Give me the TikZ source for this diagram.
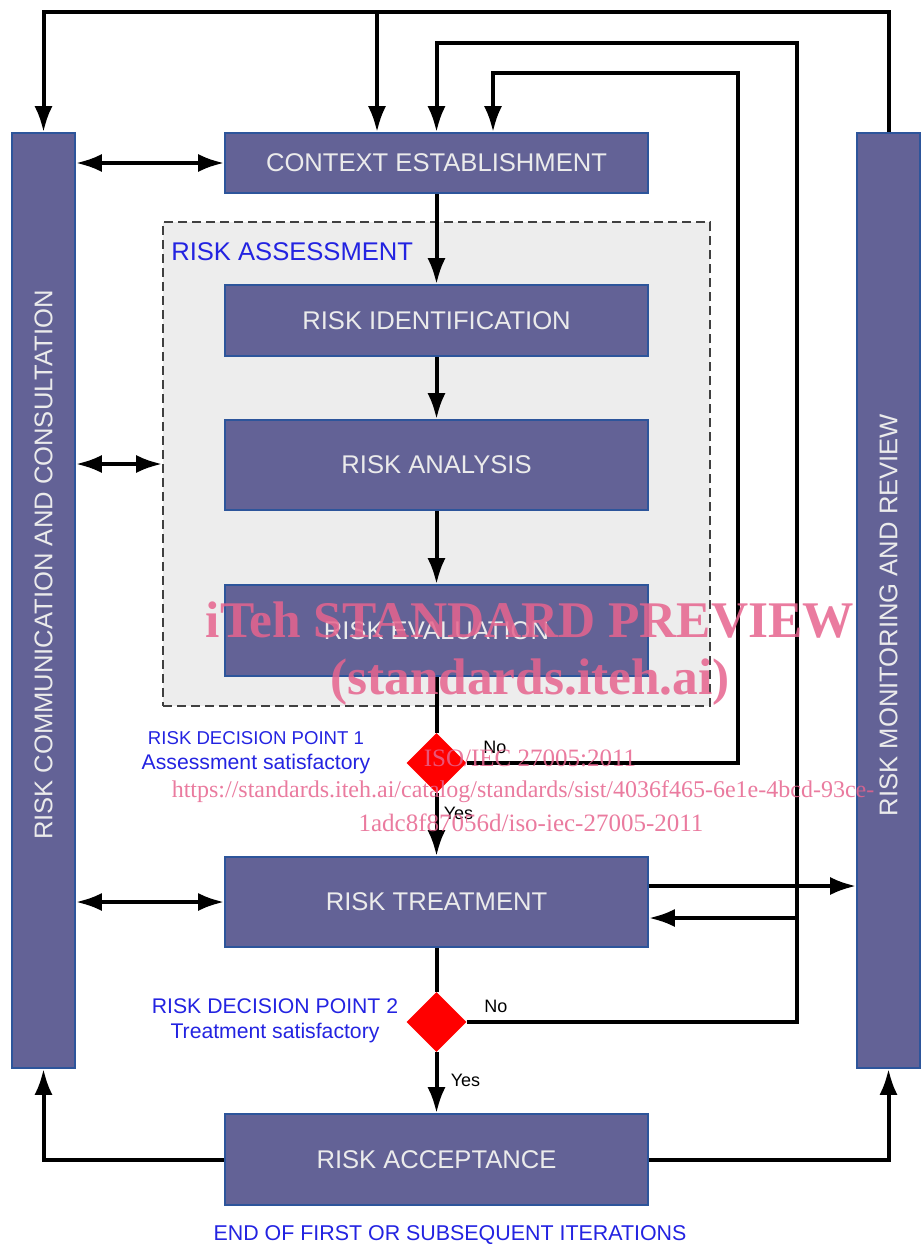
\documentclass[tikz,border=0pt]{standalone}
\usepackage{fontspec}
\setmainfont{Liberation Sans}
\newfontfamily\markfont{Liberation Serif}
\usetikzlibrary{shapes.geometric,arrows.meta}
\definecolor{stagefill}{RGB}{99,98,150}
\definecolor{stageline}{RGB}{45,85,155}
\definecolor{noteblue}{RGB}{35,35,225}
\definecolor{markpink}{RGB}{230,100,142}
\tikzset{
  stage/.style={draw=stageline, fill=stagefill, line width=.8pt, text=white!92!black,
    minimum width=211.5pt, inner sep=0pt, font=\fontsize{12.8}{15}\selectfont},
  sidebar/.style={draw=stageline, fill=stagefill, line width=.8pt,
    minimum width=31.5pt, minimum height=467.5pt, inner sep=0pt},
  sidetext/.style={rotate=90, text=white!92!black, font=\fontsize{12.8}{15}\selectfont},
  decision/.style={diamond, fill=red, minimum width=30pt, minimum height=30pt, inner sep=0pt},
  flow/.style={line width=2pt, -{Latex[length=13pt,width=9pt]}},
  twoway/.style={line width=2pt, {Latex[length=13pt,width=9pt]}-{Latex[length=13pt,width=9pt]}},
  link/.style={line width=2pt},
  dpnote/.style={text=noteblue, align=center, font=\fontsize{10.6}{12.5}\selectfont},
  answer/.style={font=\fontsize{9}{11}\selectfont},
  wmark/.style={text=markpink, opacity=.85, font=\markfont\fontsize{12.5}{14}\selectfont},
  bigmark/.style={wmark, font=\markfont\bfseries\fontsize{25.7}{28}\selectfont}
}
\begin{document}
\begin{tikzpicture}[x=0.5pt,y=-0.5pt]
\useasboundingbox (0,0) rectangle (922,1247);
\node[sidebar] (comm) at (43.5,600.5) {};
\node[sidebar] (monitor) at (888.5,600.5) {};
\node[sidetext] at (43.5,565) {RISK COMMUNICATION AND CONSULTATION};
\node[sidetext] at (888.5,615) {RISK MONITORING AND REVIEW};
\node[draw=black!75, dash pattern=on 4.5pt off 2.5pt, line width=.8pt, fill=black!7,
  minimum width=273.5pt, minimum height=242pt, inner sep=0pt] (assess) at (436.5,464) {};
\node[text=noteblue, anchor=west, font=\fontsize{12.8}{15}\selectfont]
  at ([xshift=1pt,yshift=-15pt]assess.north west) {RISK ASSESSMENT};
\node[stage, minimum height=30pt] (context) at (436.5,163) {CONTEXT ESTABLISHMENT};
\node[stage, minimum height=35.5pt] (ident) at (436.5,320.5) {RISK IDENTIFICATION};
\node[stage, minimum height=45pt] (analysis) at (436.5,465) {RISK ANALYSIS};
\node[stage, minimum height=45.5pt] (evaluation) at (436.5,630.5) {RISK EVALUATION};
\node[decision] (dp1) at (436.5,763) {};
\node[stage, minimum height=45pt] (treatment) at (436.5,902) {RISK TREATMENT};
\node[decision] (dp2) at (436.5,1022) {};
\node[stage, minimum height=45.5pt] (acceptance) at (436.5,1159.5) {RISK ACCEPTANCE};
\node[dpnote] (dp1note) at (256,753)
  {{\fontsize{9.3}{11}\selectfont RISK DECISION POINT 1}\\Assessment satisfactory};
\node[dpnote] (dp2note) at (275,1021) {RISK DECISION POINT 2\\Treatment satisfactory};
\node[answer] (no1) at ([xshift=14pt,yshift=8pt]dp1.east) {No};
\node[answer] (yes1) at ([xshift=11pt,yshift=-10pt]dp1.south) {Yes};
\node[answer] (no2) at ([xshift=14.5pt,yshift=8pt]dp2.east) {No};
\node[answer] (yes2) at ([xshift=14.5pt,yshift=-14pt]dp2.south) {Yes};
\node[text=noteblue, font=\fontsize{10.7}{12}\selectfont] (endnote) at (450,1235)
  {END OF FIRST OR SUBSEQUENT ITERATIONS};
\coordinate (toprow) at (377,12);
\coordinate (loopB) at (797,43);
\coordinate (loopA) at (738,73);
\coordinate (ctxA) at (493,73);
\draw[flow] (monitor.north) |- (comm.north |- toprow) -- (comm.north);
\draw[flow] (toprow) -- (context.north -| toprow);
\draw[flow] (dp2.east) -| (loopB) -| (context.north);
\draw[flow] (dp1.east) -| (loopA) -- (ctxA) -- (context.north -| ctxA);
\draw[twoway] (comm.east |- context.west) -- (context.west);
\draw[twoway] (comm.east |- assess.west) -- (assess.west);
\draw[twoway] (comm.east |- treatment.west) -- (treatment.west);
\draw[flow] (context) -- (ident);
\draw[flow] (ident) -- (analysis);
\draw[flow] (analysis) -- (evaluation);
\draw[link] (evaluation) -- (dp1);
\draw[flow] (dp1) -- (treatment);
\draw[link] (treatment) -- (dp2);
\draw[flow] (dp2) -- (acceptance);
\draw[flow] ([yshift=8pt]treatment.east) -- ([yshift=8pt]treatment.east -| monitor.west);
\draw[flow] ([yshift=-8pt]treatment.east -| loopB) -- ([yshift=-8pt]treatment.east);
\draw[flow] (acceptance.west) -| (comm.south);
\draw[flow] (acceptance.east) -| (monitor.south);
\node[bigmark] (wm1) at (530,620) {iTeh STANDARD PREVIEW};
\node[bigmark] (wm2) at (530,682) {(standards.iteh.ai)};
\node[wmark] (wm3) at (530,758) {ISO/IEC 27005:2011};
\node[wmark, font=\markfont\fontsize{12}{14}\selectfont] (wm4) at (523,792)
  {https://standards.iteh.ai/catalog/standards/sist/4036f465-6e1e-4bcd-93ce-};
\node[wmark] (wm5) at (531,823) {1adc8f87056d/iso-iec-27005-2011};
\end{tikzpicture}
\end{document}
